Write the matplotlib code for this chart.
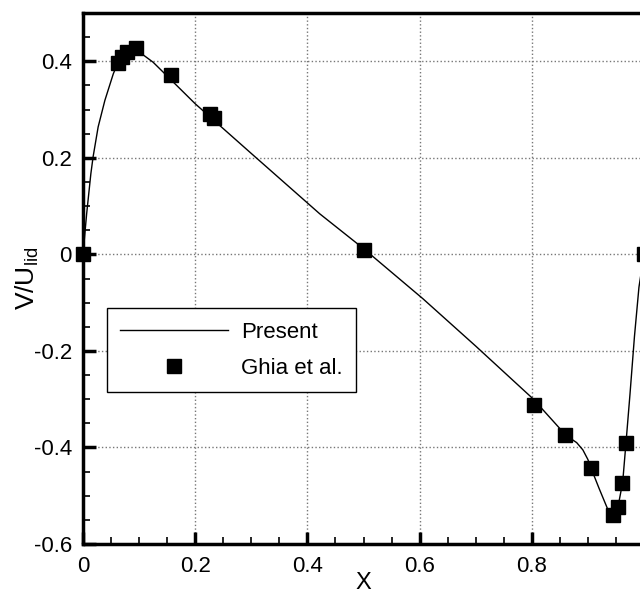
import matplotlib
matplotlib.use('Agg')
import matplotlib.pyplot as plt
from matplotlib.ticker import MultipleLocator, FuncFormatter

# Ghia et al. reference points (v along horizontal centreline)
ghia_x = [0.0, 0.0625, 0.0703, 0.0781, 0.0938, 0.1563, 0.2266, 0.2344, 0.5,
          0.8047, 0.8594, 0.9063, 0.9453, 0.9531, 0.9609, 0.9688, 1.0]
ghia_v = [0.0, 0.3956, 0.4092, 0.4191, 0.4277, 0.3712, 0.2903, 0.2819, 0.0100,
          -0.3118, -0.3740, -0.4431, -0.5405, -0.5236, -0.4743, -0.3902, 0.0]

# present solution
present_x = [0.0, 0.0065, 0.014, 0.018, 0.027, 0.039, 0.054, 0.063, 0.075, 0.088,
             0.104, 0.125, 0.146, 0.2, 0.3, 0.422, 0.5, 0.606, 0.7, 0.802,
             0.861, 0.88, 0.891, 0.9, 0.906, 0.92, 0.935, 0.9445, 0.953, 0.962,
             0.968, 0.975, 0.983, 0.991, 1.0]
present_v = [0.0, 0.084, 0.167, 0.202, 0.264, 0.319, 0.374, 0.399, 0.416, 0.424,
             0.416, 0.398, 0.374, 0.312, 0.209, 0.084, 0.012, -0.092, -0.19, -0.299,
             -0.375, -0.39, -0.405, -0.425, -0.444, -0.485, -0.527, -0.545, -0.527, -0.472,
             -0.389, -0.29, -0.17, -0.068, 0.0]

plt.rcParams['font.family'] = ['Liberation Sans', 'DejaVu Sans']
plt.rcParams['mathtext.fontset'] = 'custom'
plt.rcParams['mathtext.rm'] = 'Liberation Sans'
plt.rcParams['axes.unicode_minus'] = False

fig = plt.figure(figsize=(6.4, 5.95), dpi=100)
ax = fig.add_axes([83 / 640, 51 / 595, 561 / 640, 531 / 595])

ax.plot(present_x, present_v, color='black', lw=1.0, label='Present')
ax.plot(ghia_x, ghia_v, ls='none', marker='s', ms=10.5, color='black',
        label='Ghia et al.', clip_on=False)

ax.set_xlim(0, 1)
ax.set_ylim(-0.6, 0.5)
ax.xaxis.set_major_locator(MultipleLocator(0.2))
ax.xaxis.set_minor_locator(MultipleLocator(0.05))
ax.yaxis.set_major_locator(MultipleLocator(0.2))
ax.yaxis.set_minor_locator(MultipleLocator(0.05))


def tick_text(v, pos):
    if abs(v) < 1e-9:
        return '0'
    if v > 0.99:
        return ''  # falls outside the picture
    return f'{v:g}'


ax.xaxis.set_major_formatter(FuncFormatter(tick_text))
ax.yaxis.set_major_formatter(FuncFormatter(tick_text))

ax.grid(True, which='major', ls=':', color='#777777', lw=1.0)
ax.set_axisbelow(True)

for s in ax.spines.values():
    s.set_linewidth(2.5)

ax.tick_params(which='major', direction='in', length=9, width=2.5,
               labelsize=16, top=False, right=False)
ax.tick_params(axis='y', which='major', pad=8)
ax.tick_params(axis='x', which='major', pad=9)
ax.tick_params(which='minor', direction='in', length=5, width=1.2,
               top=False, right=False)

ax.set_xlabel('X', fontsize=17, labelpad=-4)
ax.set_ylabel(r'V/U$_{\rm lid}$', fontsize=19)
ax.yaxis.set_label_coords(-0.075, 0.5)

leg = ax.legend(loc='upper left', bbox_to_anchor=(0.0427, 0.444), borderaxespad=0,
                fontsize=16, frameon=True, fancybox=False, edgecolor='black',
                handlelength=4.85, handletextpad=0.6, borderpad=0.6,
                labelspacing=0.7, numpoints=1)
leg.get_frame().set_linewidth(1.0)
leg.get_frame().set_alpha(1.0)

fig.savefig('out.png', dpi=100)
